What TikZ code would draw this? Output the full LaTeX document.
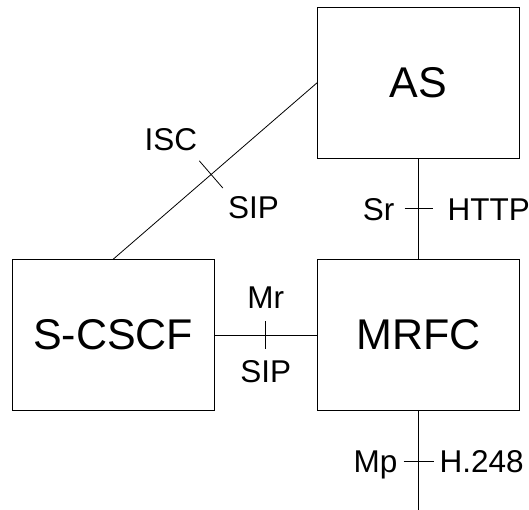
\documentclass[tikz,border=0pt]{standalone}
\usepackage{fontspec}
\setmainfont{Liberation Sans}
\usetikzlibrary{positioning,calc}
\tikzset{
    entity/.style={draw, rectangle, minimum width=202pt, minimum height=151pt, inner sep=0pt, font=\fontsize{43pt}{51pt}\selectfont},
    iface/.style={inner sep=0pt, text height=22.5pt, text depth=0pt, font=\fontsize{31.5pt}{38pt}\selectfont},
    link/.style={line width=0.8pt}
}

\begin{document}
\begin{tikzpicture}[x=1pt, y=-1pt, node distance=100pt]
    \useasboundingbox (0,0) rectangle (529,510);
    \node[entity] (mrfc) at (418.5,335) {MRFC};
    \node[entity, above=101pt of mrfc] (as) {AS};
    \node[entity, left=103pt of mrfc] (scscf) {S-CSCF};
    \coordinate[below=100pt of mrfc] (mpend);
    % ISC between AS and S-CSCF
    \draw[link] (as.west) -- coordinate[pos=0.52] (iscmid) (scscf.north);
    \draw[link] ($(iscmid)!18pt!90:(as.west)$) coordinate (isca) -- ($(iscmid)!18pt!-90:(as.west)$) coordinate (iscb);
    \node[iface, above left=10pt and 2pt of isca] (isc) {ISC};
    \node[iface, below right=8pt and 5pt of iscb] (iscsip) {SIP};
    % Sr between AS and MRFC
    \draw[link] (as) -- coordinate[midway] (srmid) (mrfc);
    \draw[link] ($(srmid)+(-14,0)$) coordinate (sra) -- ($(srmid)+(14,0)$) coordinate (srb);
    \node[iface, left=10pt of sra] (sr) {Sr};
    \node[iface, right=15pt of srb] (http) {HTTP};
    % Mr between S-CSCF and MRFC
    \draw[link] (scscf) -- coordinate[midway] (mrmid) (mrfc);
    \draw[link] ($(mrmid)+(0,-14)$) coordinate (mra) -- ($(mrmid)+(0,14)$) coordinate (mrb);
    \node[iface, above=12pt of mra] (mr) {Mr};
    \node[iface, below=11pt of mrb] (mrsip) {SIP};
    % Mp below MRFC
    \draw[link] (mrfc) -- coordinate[pos=0.51] (mpmid) (mpend);
    \draw[link] ($(mpmid)+(-15,0)$) coordinate (mpa) -- ($(mpmid)+(15,0)$) coordinate (mpb);
    \node[iface, left=6pt of mpa] (mp) {Mp};
    \node[iface, right=6pt of mpb] (h248) {H.248};
\end{tikzpicture}
\end{document}
